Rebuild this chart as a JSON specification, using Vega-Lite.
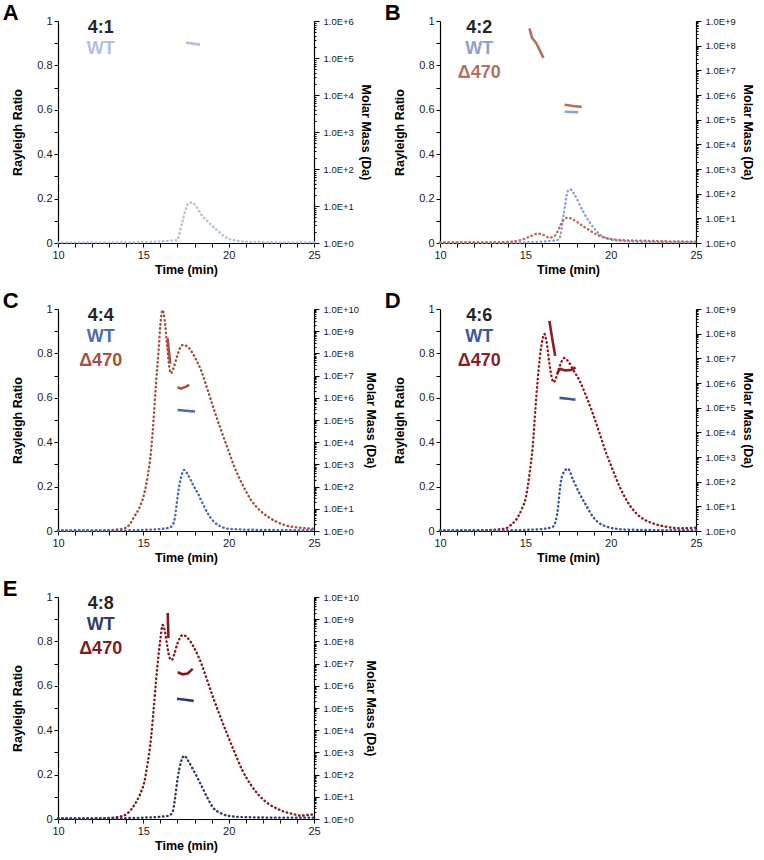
{
  "$schema": "https://vega.github.io/schema/vega-lite/v6.json",
  "padding": {"left": 2, "top": 2, "right": 2, "bottom": 2},
  "columns": 2,
  "spacing": {"column": 7, "row": 14},
  "datasets": {
    "rr": [
      {"panel": "A", "key": "A-WT", "t": 10, "rr": 0.003}, {"panel": "A", "key": "A-WT", "t": 12, "rr": 0.003}, {"panel": "A", "key": "A-WT", "t": 14, "rr": 0.003}, {"panel": "A", "key": "A-WT", "t": 15, "rr": 0.004}, {"panel": "A", "key": "A-WT", "t": 16, "rr": 0.007}, {"panel": "A", "key": "A-WT", "t": 16.5, "rr": 0.01}, {"panel": "A", "key": "A-WT", "t": 16.9, "rr": 0.012}, {"panel": "A", "key": "A-WT", "t": 17.0, "rr": 0.017}, {"panel": "A", "key": "A-WT", "t": 17.3, "rr": 0.1}, {"panel": "A", "key": "A-WT", "t": 17.6, "rr": 0.174}, {"panel": "A", "key": "A-WT", "t": 17.83, "rr": 0.182}, {"panel": "A", "key": "A-WT", "t": 18.1, "rr": 0.165}, {"panel": "A", "key": "A-WT", "t": 18.38, "rr": 0.129}, {"panel": "A", "key": "A-WT", "t": 18.8, "rr": 0.095}, {"panel": "A", "key": "A-WT", "t": 19.16, "rr": 0.069}, {"panel": "A", "key": "A-WT", "t": 19.5, "rr": 0.045}, {"panel": "A", "key": "A-WT", "t": 19.94, "rr": 0.021}, {"panel": "A", "key": "A-WT", "t": 20.5, "rr": 0.01}, {"panel": "A", "key": "A-WT", "t": 21, "rr": 0.006}, {"panel": "A", "key": "A-WT", "t": 22, "rr": 0.004}, {"panel": "A", "key": "A-WT", "t": 23, "rr": 0.003}, {"panel": "A", "key": "A-WT", "t": 25, "rr": 0.003},

      {"panel": "B", "key": "B-WT", "t": 10, "rr": 0.002}, {"panel": "B", "key": "B-WT", "t": 14, "rr": 0.002}, {"panel": "B", "key": "B-WT", "t": 15, "rr": 0.003}, {"panel": "B", "key": "B-WT", "t": 16, "rr": 0.006}, {"panel": "B", "key": "B-WT", "t": 16.5, "rr": 0.01}, {"panel": "B", "key": "B-WT", "t": 16.85, "rr": 0.013}, {"panel": "B", "key": "B-WT", "t": 17.0, "rr": 0.02}, {"panel": "B", "key": "B-WT", "t": 17.25, "rr": 0.13}, {"panel": "B", "key": "B-WT", "t": 17.49, "rr": 0.234}, {"panel": "B", "key": "B-WT", "t": 17.63, "rr": 0.242}, {"panel": "B", "key": "B-WT", "t": 17.9, "rr": 0.215}, {"panel": "B", "key": "B-WT", "t": 18.37, "rr": 0.144}, {"panel": "B", "key": "B-WT", "t": 18.8, "rr": 0.09}, {"panel": "B", "key": "B-WT", "t": 19.16, "rr": 0.054}, {"panel": "B", "key": "B-WT", "t": 19.5, "rr": 0.032}, {"panel": "B", "key": "B-WT", "t": 19.94, "rr": 0.017}, {"panel": "B", "key": "B-WT", "t": 20.5, "rr": 0.01}, {"panel": "B", "key": "B-WT", "t": 21.5, "rr": 0.006}, {"panel": "B", "key": "B-WT", "t": 23, "rr": 0.004}, {"panel": "B", "key": "B-WT", "t": 25, "rr": 0.003},

      {"panel": "B", "key": "B-D470", "t": 10, "rr": 0.002}, {"panel": "B", "key": "B-D470", "t": 13, "rr": 0.002}, {"panel": "B", "key": "B-D470", "t": 14.24, "rr": 0.006}, {"panel": "B", "key": "B-D470", "t": 14.8, "rr": 0.015}, {"panel": "B", "key": "B-D470", "t": 15.3, "rr": 0.03}, {"panel": "B", "key": "B-D470", "t": 15.73, "rr": 0.042}, {"panel": "B", "key": "B-D470", "t": 16.1, "rr": 0.035}, {"panel": "B", "key": "B-D470", "t": 16.41, "rr": 0.024}, {"panel": "B", "key": "B-D470", "t": 16.7, "rr": 0.03}, {"panel": "B", "key": "B-D470", "t": 17.0, "rr": 0.07}, {"panel": "B", "key": "B-D470", "t": 17.2, "rr": 0.1}, {"panel": "B", "key": "B-D470", "t": 17.49, "rr": 0.114}, {"panel": "B", "key": "B-D470", "t": 17.8, "rr": 0.105}, {"panel": "B", "key": "B-D470", "t": 18.37, "rr": 0.077}, {"panel": "B", "key": "B-D470", "t": 18.8, "rr": 0.055}, {"panel": "B", "key": "B-D470", "t": 19.16, "rr": 0.039}, {"panel": "B", "key": "B-D470", "t": 19.6, "rr": 0.025}, {"panel": "B", "key": "B-D470", "t": 20.1, "rr": 0.017}, {"panel": "B", "key": "B-D470", "t": 21, "rr": 0.012}, {"panel": "B", "key": "B-D470", "t": 22, "rr": 0.01}, {"panel": "B", "key": "B-D470", "t": 23, "rr": 0.008}, {"panel": "B", "key": "B-D470", "t": 25, "rr": 0.006},

      {"panel": "C", "key": "C-D470", "t": 10, "rr": 0.002}, {"panel": "C", "key": "C-D470", "t": 12, "rr": 0.002}, {"panel": "C", "key": "C-D470", "t": 13, "rr": 0.004}, {"panel": "C", "key": "C-D470", "t": 13.5, "rr": 0.007}, {"panel": "C", "key": "C-D470", "t": 13.89, "rr": 0.012}, {"panel": "C", "key": "C-D470", "t": 14.2, "rr": 0.03}, {"panel": "C", "key": "C-D470", "t": 14.47, "rr": 0.065}, {"panel": "C", "key": "C-D470", "t": 14.8, "rr": 0.11}, {"panel": "C", "key": "C-D470", "t": 15.06, "rr": 0.17}, {"panel": "C", "key": "C-D470", "t": 15.26, "rr": 0.25}, {"panel": "C", "key": "C-D470", "t": 15.45, "rr": 0.36}, {"panel": "C", "key": "C-D470", "t": 15.6, "rr": 0.5}, {"panel": "C", "key": "C-D470", "t": 15.74, "rr": 0.66}, {"panel": "C", "key": "C-D470", "t": 15.9, "rr": 0.82}, {"panel": "C", "key": "C-D470", "t": 16.0, "rr": 0.93}, {"panel": "C", "key": "C-D470", "t": 16.13, "rr": 0.995}, {"panel": "C", "key": "C-D470", "t": 16.25, "rr": 0.95}, {"panel": "C", "key": "C-D470", "t": 16.4, "rr": 0.83}, {"panel": "C", "key": "C-D470", "t": 16.52, "rr": 0.74}, {"panel": "C", "key": "C-D470", "t": 16.62, "rr": 0.71}, {"panel": "C", "key": "C-D470", "t": 16.75, "rr": 0.73}, {"panel": "C", "key": "C-D470", "t": 16.95, "rr": 0.78}, {"panel": "C", "key": "C-D470", "t": 17.1, "rr": 0.815}, {"panel": "C", "key": "C-D470", "t": 17.31, "rr": 0.838}, {"panel": "C", "key": "C-D470", "t": 17.6, "rr": 0.83}, {"panel": "C", "key": "C-D470", "t": 18.0, "rr": 0.785}, {"panel": "C", "key": "C-D470", "t": 18.4, "rr": 0.72}, {"panel": "C", "key": "C-D470", "t": 18.77, "rr": 0.635}, {"panel": "C", "key": "C-D470", "t": 19.15, "rr": 0.545}, {"panel": "C", "key": "C-D470", "t": 19.55, "rr": 0.455}, {"panel": "C", "key": "C-D470", "t": 19.95, "rr": 0.37}, {"panel": "C", "key": "C-D470", "t": 20.33, "rr": 0.29}, {"panel": "C", "key": "C-D470", "t": 20.8, "rr": 0.21}, {"panel": "C", "key": "C-D470", "t": 21.31, "rr": 0.14}, {"panel": "C", "key": "C-D470", "t": 21.8, "rr": 0.095}, {"panel": "C", "key": "C-D470", "t": 22.29, "rr": 0.065}, {"panel": "C", "key": "C-D470", "t": 22.8, "rr": 0.042}, {"panel": "C", "key": "C-D470", "t": 23.26, "rr": 0.027}, {"panel": "C", "key": "C-D470", "t": 23.8, "rr": 0.018}, {"panel": "C", "key": "C-D470", "t": 24.63, "rr": 0.012}, {"panel": "C", "key": "C-D470", "t": 25, "rr": 0.01},

      {"panel": "C", "key": "C-WT", "t": 10, "rr": 0.002}, {"panel": "C", "key": "C-WT", "t": 14, "rr": 0.003}, {"panel": "C", "key": "C-WT", "t": 15, "rr": 0.005}, {"panel": "C", "key": "C-WT", "t": 16, "rr": 0.009}, {"panel": "C", "key": "C-WT", "t": 16.5, "rr": 0.014}, {"panel": "C", "key": "C-WT", "t": 16.7, "rr": 0.025}, {"panel": "C", "key": "C-WT", "t": 16.85, "rr": 0.06}, {"panel": "C", "key": "C-WT", "t": 17.0, "rr": 0.15}, {"panel": "C", "key": "C-WT", "t": 17.2, "rr": 0.24}, {"panel": "C", "key": "C-WT", "t": 17.4, "rr": 0.275}, {"panel": "C", "key": "C-WT", "t": 17.6, "rr": 0.255}, {"panel": "C", "key": "C-WT", "t": 17.9, "rr": 0.21}, {"panel": "C", "key": "C-WT", "t": 18.19, "rr": 0.17}, {"panel": "C", "key": "C-WT", "t": 18.5, "rr": 0.12}, {"panel": "C", "key": "C-WT", "t": 18.77, "rr": 0.08}, {"panel": "C", "key": "C-WT", "t": 19.1, "rr": 0.045}, {"panel": "C", "key": "C-WT", "t": 19.55, "rr": 0.02}, {"panel": "C", "key": "C-WT", "t": 20, "rr": 0.01}, {"panel": "C", "key": "C-WT", "t": 21, "rr": 0.006}, {"panel": "C", "key": "C-WT", "t": 23, "rr": 0.004}, {"panel": "C", "key": "C-WT", "t": 25, "rr": 0.003},

      {"panel": "D", "key": "D-D470", "t": 10, "rr": 0.003}, {"panel": "D", "key": "D-D470", "t": 12, "rr": 0.003}, {"panel": "D", "key": "D-D470", "t": 13, "rr": 0.005}, {"panel": "D", "key": "D-D470", "t": 13.5, "rr": 0.008}, {"panel": "D", "key": "D-D470", "t": 13.86, "rr": 0.012}, {"panel": "D", "key": "D-D470", "t": 14.2, "rr": 0.03}, {"panel": "D", "key": "D-D470", "t": 14.45, "rr": 0.05}, {"panel": "D", "key": "D-D470", "t": 14.8, "rr": 0.1}, {"panel": "D", "key": "D-D470", "t": 15.04, "rr": 0.154}, {"panel": "D", "key": "D-D470", "t": 15.25, "rr": 0.26}, {"panel": "D", "key": "D-D470", "t": 15.43, "rr": 0.378}, {"panel": "D", "key": "D-D470", "t": 15.6, "rr": 0.56}, {"panel": "D", "key": "D-D470", "t": 15.72, "rr": 0.677}, {"panel": "D", "key": "D-D470", "t": 15.85, "rr": 0.78}, {"panel": "D", "key": "D-D470", "t": 16.0, "rr": 0.86}, {"panel": "D", "key": "D-D470", "t": 16.12, "rr": 0.887}, {"panel": "D", "key": "D-D470", "t": 16.25, "rr": 0.85}, {"panel": "D", "key": "D-D470", "t": 16.4, "rr": 0.76}, {"panel": "D", "key": "D-D470", "t": 16.55, "rr": 0.69}, {"panel": "D", "key": "D-D470", "t": 16.67, "rr": 0.67}, {"panel": "D", "key": "D-D470", "t": 16.8, "rr": 0.69}, {"panel": "D", "key": "D-D470", "t": 17.0, "rr": 0.74}, {"panel": "D", "key": "D-D470", "t": 17.29, "rr": 0.779}, {"panel": "D", "key": "D-D470", "t": 17.55, "rr": 0.76}, {"panel": "D", "key": "D-D470", "t": 17.85, "rr": 0.72}, {"panel": "D", "key": "D-D470", "t": 18.18, "rr": 0.677}, {"panel": "D", "key": "D-D470", "t": 18.55, "rr": 0.61}, {"panel": "D", "key": "D-D470", "t": 18.96, "rr": 0.528}, {"panel": "D", "key": "D-D470", "t": 19.35, "rr": 0.44}, {"panel": "D", "key": "D-D470", "t": 19.75, "rr": 0.348}, {"panel": "D", "key": "D-D470", "t": 20.15, "rr": 0.27}, {"panel": "D", "key": "D-D470", "t": 20.53, "rr": 0.199}, {"panel": "D", "key": "D-D470", "t": 21.0, "rr": 0.13}, {"panel": "D", "key": "D-D470", "t": 21.51, "rr": 0.079}, {"panel": "D", "key": "D-D470", "t": 22.0, "rr": 0.05}, {"panel": "D", "key": "D-D470", "t": 22.49, "rr": 0.034}, {"panel": "D", "key": "D-D470", "t": 23.2, "rr": 0.02}, {"panel": "D", "key": "D-D470", "t": 24.06, "rr": 0.012}, {"panel": "D", "key": "D-D470", "t": 24.5, "rr": 0.013}, {"panel": "D", "key": "D-D470", "t": 25, "rr": 0.015},

      {"panel": "D", "key": "D-WT", "t": 10, "rr": 0.002}, {"panel": "D", "key": "D-WT", "t": 14, "rr": 0.003}, {"panel": "D", "key": "D-WT", "t": 15, "rr": 0.005}, {"panel": "D", "key": "D-WT", "t": 16, "rr": 0.009}, {"panel": "D", "key": "D-WT", "t": 16.61, "rr": 0.019}, {"panel": "D", "key": "D-WT", "t": 16.85, "rr": 0.07}, {"panel": "D", "key": "D-WT", "t": 17.1, "rr": 0.229}, {"panel": "D", "key": "D-WT", "t": 17.3, "rr": 0.27}, {"panel": "D", "key": "D-WT", "t": 17.49, "rr": 0.281}, {"panel": "D", "key": "D-WT", "t": 17.8, "rr": 0.23}, {"panel": "D", "key": "D-WT", "t": 18.18, "rr": 0.169}, {"panel": "D", "key": "D-WT", "t": 18.6, "rr": 0.11}, {"panel": "D", "key": "D-WT", "t": 18.96, "rr": 0.064}, {"panel": "D", "key": "D-WT", "t": 19.35, "rr": 0.035}, {"panel": "D", "key": "D-WT", "t": 19.75, "rr": 0.02}, {"panel": "D", "key": "D-WT", "t": 20.3, "rr": 0.01}, {"panel": "D", "key": "D-WT", "t": 21, "rr": 0.006}, {"panel": "D", "key": "D-WT", "t": 23, "rr": 0.004}, {"panel": "D", "key": "D-WT", "t": 25, "rr": 0.004},

      {"panel": "E", "key": "E-D470", "t": 10, "rr": 0.002}, {"panel": "E", "key": "E-D470", "t": 12, "rr": 0.003}, {"panel": "E", "key": "E-D470", "t": 13, "rr": 0.005}, {"panel": "E", "key": "E-D470", "t": 13.6, "rr": 0.01}, {"panel": "E", "key": "E-D470", "t": 14.08, "rr": 0.026}, {"panel": "E", "key": "E-D470", "t": 14.47, "rr": 0.063}, {"panel": "E", "key": "E-D470", "t": 14.8, "rr": 0.11}, {"panel": "E", "key": "E-D470", "t": 15.06, "rr": 0.168}, {"panel": "E", "key": "E-D470", "t": 15.25, "rr": 0.25}, {"panel": "E", "key": "E-D470", "t": 15.45, "rr": 0.363}, {"panel": "E", "key": "E-D470", "t": 15.6, "rr": 0.49}, {"panel": "E", "key": "E-D470", "t": 15.74, "rr": 0.62}, {"panel": "E", "key": "E-D470", "t": 15.88, "rr": 0.73}, {"panel": "E", "key": "E-D470", "t": 16.0, "rr": 0.81}, {"panel": "E", "key": "E-D470", "t": 16.13, "rr": 0.874}, {"panel": "E", "key": "E-D470", "t": 16.25, "rr": 0.85}, {"panel": "E", "key": "E-D470", "t": 16.4, "rr": 0.78}, {"panel": "E", "key": "E-D470", "t": 16.55, "rr": 0.725}, {"panel": "E", "key": "E-D470", "t": 16.66, "rr": 0.716}, {"panel": "E", "key": "E-D470", "t": 16.8, "rr": 0.74}, {"panel": "E", "key": "E-D470", "t": 17.0, "rr": 0.79}, {"panel": "E", "key": "E-D470", "t": 17.31, "rr": 0.829}, {"panel": "E", "key": "E-D470", "t": 17.6, "rr": 0.815}, {"panel": "E", "key": "E-D470", "t": 17.99, "rr": 0.769}, {"panel": "E", "key": "E-D470", "t": 18.4, "rr": 0.7}, {"panel": "E", "key": "E-D470", "t": 18.77, "rr": 0.619}, {"panel": "E", "key": "E-D470", "t": 19.15, "rr": 0.535}, {"panel": "E", "key": "E-D470", "t": 19.55, "rr": 0.453}, {"panel": "E", "key": "E-D470", "t": 19.95, "rr": 0.375}, {"panel": "E", "key": "E-D470", "t": 20.33, "rr": 0.303}, {"panel": "E", "key": "E-D470", "t": 20.8, "rr": 0.22}, {"panel": "E", "key": "E-D470", "t": 21.31, "rr": 0.153}, {"panel": "E", "key": "E-D470", "t": 21.8, "rr": 0.105}, {"panel": "E", "key": "E-D470", "t": 22.29, "rr": 0.071}, {"panel": "E", "key": "E-D470", "t": 22.8, "rr": 0.048}, {"panel": "E", "key": "E-D470", "t": 23.26, "rr": 0.033}, {"panel": "E", "key": "E-D470", "t": 23.8, "rr": 0.022}, {"panel": "E", "key": "E-D470", "t": 24.24, "rr": 0.015}, {"panel": "E", "key": "E-D470", "t": 24.6, "rr": 0.018}, {"panel": "E", "key": "E-D470", "t": 25, "rr": 0.02},

      {"panel": "E", "key": "E-WT", "t": 10, "rr": 0.002}, {"panel": "E", "key": "E-WT", "t": 13, "rr": 0.003}, {"panel": "E", "key": "E-WT", "t": 15, "rr": 0.006}, {"panel": "E", "key": "E-WT", "t": 16, "rr": 0.01}, {"panel": "E", "key": "E-WT", "t": 16.5, "rr": 0.015}, {"panel": "E", "key": "E-WT", "t": 16.72, "rr": 0.033}, {"panel": "E", "key": "E-WT", "t": 16.85, "rr": 0.09}, {"panel": "E", "key": "E-WT", "t": 17.01, "rr": 0.183}, {"panel": "E", "key": "E-WT", "t": 17.2, "rr": 0.255}, {"panel": "E", "key": "E-WT", "t": 17.4, "rr": 0.285}, {"panel": "E", "key": "E-WT", "t": 17.6, "rr": 0.265}, {"panel": "E", "key": "E-WT", "t": 17.9, "rr": 0.225}, {"panel": "E", "key": "E-WT", "t": 18.19, "rr": 0.183}, {"panel": "E", "key": "E-WT", "t": 18.5, "rr": 0.135}, {"panel": "E", "key": "E-WT", "t": 18.77, "rr": 0.093}, {"panel": "E", "key": "E-WT", "t": 19.1, "rr": 0.05}, {"panel": "E", "key": "E-WT", "t": 19.55, "rr": 0.026}, {"panel": "E", "key": "E-WT", "t": 20, "rr": 0.014}, {"panel": "E", "key": "E-WT", "t": 21, "rr": 0.008}, {"panel": "E", "key": "E-WT", "t": 23, "rr": 0.006}, {"panel": "E", "key": "E-WT", "t": 25, "rr": 0.006}
    ],
    "mass": [
      {"panel": "A", "key": "A-WT", "seg": "mid", "t": 17.5, "mass": 260000}, {"panel": "A", "key": "A-WT", "seg": "mid", "t": 17.9, "mass": 245000}, {"panel": "A", "key": "A-WT", "seg": "mid", "t": 18.32, "mass": 230000},
      {"panel": "B", "key": "B-WT", "seg": "mid", "t": 17.3, "mass": 210000}, {"panel": "B", "key": "B-WT", "seg": "mid", "t": 17.7, "mass": 205000}, {"panel": "B", "key": "B-WT", "seg": "mid", "t": 18.1, "mass": 200000},
      {"panel": "B", "key": "B-D470", "seg": "mid", "t": 17.3, "mass": 400000}, {"panel": "B", "key": "B-D470", "seg": "mid", "t": 17.8, "mass": 360000}, {"panel": "B", "key": "B-D470", "seg": "mid", "t": 18.3, "mass": 330000},
      {"panel": "B", "key": "B-D470", "seg": "hi", "t": 15.24, "mass": 500000000}, {"panel": "B", "key": "B-D470", "seg": "hi", "t": 15.39, "mass": 210000000}, {"panel": "B", "key": "B-D470", "seg": "hi", "t": 15.63, "mass": 130000000}, {"panel": "B", "key": "B-D470", "seg": "hi", "t": 15.82, "mass": 71000000}, {"panel": "B", "key": "B-D470", "seg": "hi", "t": 16.06, "mass": 32000000},
      {"panel": "C", "key": "C-WT", "seg": "mid", "t": 17.01, "mass": 280000}, {"panel": "C", "key": "C-WT", "seg": "mid", "t": 17.5, "mass": 260000}, {"panel": "C", "key": "C-WT", "seg": "mid", "t": 18.03, "mass": 240000},
      {"panel": "C", "key": "C-D470", "seg": "hi", "t": 16.43, "mass": 480000000}, {"panel": "C", "key": "C-D470", "seg": "hi", "t": 16.48, "mass": 150000000}, {"panel": "C", "key": "C-D470", "seg": "hi", "t": 16.55, "mass": 60000000}, {"panel": "C", "key": "C-D470", "seg": "hi", "t": 16.58, "mass": 35000000},
      {"panel": "C", "key": "C-D470", "seg": "mid", "t": 17.01, "mass": 3000000}, {"panel": "C", "key": "C-D470", "seg": "mid", "t": 17.21, "mass": 2600000}, {"panel": "C", "key": "C-D470", "seg": "mid", "t": 17.5, "mass": 3200000}, {"panel": "C", "key": "C-D470", "seg": "mid", "t": 17.69, "mass": 3800000},
      {"panel": "D", "key": "D-WT", "seg": "mid", "t": 17.0, "mass": 250000}, {"panel": "D", "key": "D-WT", "seg": "mid", "t": 17.5, "mass": 230000}, {"panel": "D", "key": "D-WT", "seg": "mid", "t": 17.94, "mass": 210000},
      {"panel": "D", "key": "D-D470", "seg": "hi", "t": 16.41, "mass": 330000000}, {"panel": "D", "key": "D-D470", "seg": "hi", "t": 16.58, "mass": 60000000}, {"panel": "D", "key": "D-D470", "seg": "hi", "t": 16.75, "mass": 12600000},
      {"panel": "D", "key": "D-D470", "seg": "mid", "t": 16.86, "mass": 2500000}, {"panel": "D", "key": "D-D470", "seg": "mid", "t": 17.04, "mass": 3700000}, {"panel": "D", "key": "D-D470", "seg": "mid", "t": 17.35, "mass": 3200000}, {"panel": "D", "key": "D-D470", "seg": "mid", "t": 17.69, "mass": 3400000}, {"panel": "D", "key": "D-D470", "seg": "mid", "t": 17.94, "mass": 4300000},
      {"panel": "E", "key": "E-WT", "seg": "mid", "t": 16.97, "mass": 260000}, {"panel": "E", "key": "E-WT", "seg": "mid", "t": 17.45, "mass": 235000}, {"panel": "E", "key": "E-WT", "seg": "mid", "t": 17.95, "mass": 210000},
      {"panel": "E", "key": "E-D470", "seg": "hi", "t": 16.43, "mass": 1900000000}, {"panel": "E", "key": "E-D470", "seg": "hi", "t": 16.45, "mass": 500000000}, {"panel": "E", "key": "E-D470", "seg": "hi", "t": 16.47, "mass": 140000000},
      {"panel": "E", "key": "E-D470", "seg": "mid", "t": 17.01, "mass": 4100000}, {"panel": "E", "key": "E-D470", "seg": "mid", "t": 17.3, "mass": 3300000}, {"panel": "E", "key": "E-D470", "seg": "mid", "t": 17.6, "mass": 3600000}, {"panel": "E", "key": "E-D470", "seg": "mid", "t": 17.89, "mass": 5800000}
    ],
    "labels": [
      {"panel": "A", "key": "ratio", "t": 12.5, "rr": 0.968, "text": "4:1"}, {"panel": "A", "key": "A-WT", "t": 12.5, "rr": 0.872, "text": "WT"},
      {"panel": "B", "key": "ratio", "t": 12.3, "rr": 0.968, "text": "4:2"}, {"panel": "B", "key": "B-WT", "t": 12.3, "rr": 0.872, "text": "WT"}, {"panel": "B", "key": "B-D470", "t": 12.3, "rr": 0.768, "text": "Δ470"},
      {"panel": "C", "key": "ratio", "t": 12.5, "rr": 0.968, "text": "4:4"}, {"panel": "C", "key": "C-WT", "t": 12.5, "rr": 0.872, "text": "WT"}, {"panel": "C", "key": "C-D470", "t": 12.5, "rr": 0.768, "text": "Δ470"},
      {"panel": "D", "key": "ratio", "t": 12.3, "rr": 0.968, "text": "4:6"}, {"panel": "D", "key": "D-WT", "t": 12.3, "rr": 0.872, "text": "WT"}, {"panel": "D", "key": "D-D470", "t": 12.3, "rr": 0.768, "text": "Δ470"},
      {"panel": "E", "key": "ratio", "t": 12.5, "rr": 0.968, "text": "4:8"}, {"panel": "E", "key": "E-WT", "t": 12.5, "rr": 0.872, "text": "WT"}, {"panel": "E", "key": "E-D470", "t": 12.5, "rr": 0.768, "text": "Δ470"}
    ]
  },
  "concat": [
    {
      "title": "A",
      "width": 256, "height": 222,
      "layer": [
        {"data": {"name": "rr"}, "transform": [{"filter": "datum.panel === 'A'"}],
         "mark": {"type": "line", "strokeDash": [0.5, 3.7], "strokeCap": "round", "strokeWidth": 2.4, "interpolate": "monotone"},
         "encoding": {
           "x": {"field": "t", "type": "quantitative", "scale": {"domain": [10, 25], "nice": false}, "axis": {"title": "Time (min)", "values": [10,11,12,13,14,15,16,17,18,19,20,21,22,23,24,25], "tickCount": 100, "labelExpr": "datum.value % 5 === 0 ? '' + datum.value : ''", "labelOverlap": false, "labelFlush": false, "labelPadding": 2, "titlePadding": 3}},
           "y": {"field": "rr", "type": "quantitative", "scale": {"domain": [0, 1], "nice": false}, "axis": {"title": "Rayleigh Ratio", "values": [0,0.1,0.2,0.3,0.4,0.5,0.6,0.7,0.8,0.9,1], "tickCount": 100, "labelExpr": "round(datum.value * 10) % 2 === 0 ? '' + datum.value : ''", "labelOverlap": false, "titlePadding": 12}},
           "color": {"field": "key", "type": "nominal", "scale": {"domain": ["ratio","A-WT","B-WT","B-D470","C-WT","C-D470","D-WT","D-D470","E-WT","E-D470"], "range": ["#262626","#b4c1da","#8ea2cf","#b5705e","#4d6ab2","#a4523f","#3c579c","#8b1e24","#2f3b6b","#7e1c22"]}, "legend": null}
         }},
        {"data": {"name": "mass"}, "transform": [{"filter": "datum.panel === 'A'"}],
         "mark": {"type": "line", "strokeWidth": 2.6},
         "encoding": {
           "x": {"field": "t", "type": "quantitative"},
           "y": {"field": "mass", "type": "quantitative", "scale": {"type": "log", "domain": [1, 1000000], "nice": false}, "axis": {"orient": "right", "title": "Molar Mass (Da)", "tickCount": 50, "labelExpr": "abs(log(datum.value) / LN10 - round(log(datum.value) / LN10)) < 0.001 ? '1.0E+' + round(log(datum.value) / LN10) : ''", "labelOverlap": false, "labelFontSize": 9.5, "labelPadding": 4, "titlePadding": 5, "tickSize": {"condition": {"test": "abs(log(datum.value) / LN10 - round(log(datum.value) / LN10)) < 0.001", "value": 5}, "value": 2}}},
           "detail": {"field": "seg"},
           "color": {"field": "key", "type": "nominal", "scale": {"domain": ["ratio","A-WT","B-WT","B-D470","C-WT","C-D470","D-WT","D-D470","E-WT","E-D470"], "range": ["#262626","#b4c1da","#8ea2cf","#b5705e","#4d6ab2","#a4523f","#3c579c","#8b1e24","#2f3b6b","#7e1c22"]}, "legend": null}
         }},
        {"data": {"name": "labels"}, "transform": [{"filter": "datum.panel === 'A'"}],
         "mark": {"type": "text", "fontSize": 18, "fontWeight": "bold", "align": "center", "baseline": "middle"},
         "encoding": {
           "x": {"field": "t", "type": "quantitative"},
           "y": {"field": "rr", "type": "quantitative", "scale": {"domain": [0, 1], "nice": false}, "axis": null},
           "text": {"field": "text"},
           "color": {"field": "key", "type": "nominal", "scale": {"domain": ["ratio","A-WT","B-WT","B-D470","C-WT","C-D470","D-WT","D-D470","E-WT","E-D470"], "range": ["#262626","#b4c1da","#8ea2cf","#b5705e","#4d6ab2","#a4523f","#3c579c","#8b1e24","#2f3b6b","#7e1c22"]}, "legend": null}
         }}
      ],
      "resolve": {"scale": {"y": "independent"}}
    },
    {
      "title": "B",
      "width": 256, "height": 222,
      "layer": [
        {"data": {"name": "rr"}, "transform": [{"filter": "datum.panel === 'B'"}],
         "mark": {"type": "line", "strokeDash": [0.5, 3.7], "strokeCap": "round", "strokeWidth": 2.4, "interpolate": "monotone"},
         "encoding": {
           "x": {"field": "t", "type": "quantitative", "scale": {"domain": [10, 25], "nice": false}, "axis": {"title": "Time (min)", "values": [10,11,12,13,14,15,16,17,18,19,20,21,22,23,24,25], "tickCount": 100, "labelExpr": "datum.value % 5 === 0 ? '' + datum.value : ''", "labelOverlap": false, "labelFlush": false, "labelPadding": 2, "titlePadding": 3}},
           "y": {"field": "rr", "type": "quantitative", "scale": {"domain": [0, 1], "nice": false}, "axis": {"title": "Rayleigh Ratio", "values": [0,0.1,0.2,0.3,0.4,0.5,0.6,0.7,0.8,0.9,1], "tickCount": 100, "labelExpr": "round(datum.value * 10) % 2 === 0 ? '' + datum.value : ''", "labelOverlap": false, "titlePadding": 12}},
           "color": {"field": "key", "type": "nominal", "scale": {"domain": ["ratio","A-WT","B-WT","B-D470","C-WT","C-D470","D-WT","D-D470","E-WT","E-D470"], "range": ["#262626","#b4c1da","#8ea2cf","#b5705e","#4d6ab2","#a4523f","#3c579c","#8b1e24","#2f3b6b","#7e1c22"]}, "legend": null}
         }},
        {"data": {"name": "mass"}, "transform": [{"filter": "datum.panel === 'B'"}],
         "mark": {"type": "line", "strokeWidth": 2.6},
         "encoding": {
           "x": {"field": "t", "type": "quantitative"},
           "y": {"field": "mass", "type": "quantitative", "scale": {"type": "log", "domain": [1, 1000000000], "nice": false}, "axis": {"orient": "right", "title": "Molar Mass (Da)", "tickCount": 50, "labelExpr": "abs(log(datum.value) / LN10 - round(log(datum.value) / LN10)) < 0.001 ? '1.0E+' + round(log(datum.value) / LN10) : ''", "labelOverlap": false, "labelFontSize": 9.5, "labelPadding": 4, "titlePadding": 5, "tickSize": {"condition": {"test": "abs(log(datum.value) / LN10 - round(log(datum.value) / LN10)) < 0.001", "value": 5}, "value": 2}}},
           "detail": {"field": "seg"},
           "color": {"field": "key", "type": "nominal", "scale": {"domain": ["ratio","A-WT","B-WT","B-D470","C-WT","C-D470","D-WT","D-D470","E-WT","E-D470"], "range": ["#262626","#b4c1da","#8ea2cf","#b5705e","#4d6ab2","#a4523f","#3c579c","#8b1e24","#2f3b6b","#7e1c22"]}, "legend": null}
         }},
        {"data": {"name": "labels"}, "transform": [{"filter": "datum.panel === 'B'"}],
         "mark": {"type": "text", "fontSize": 18, "fontWeight": "bold", "align": "center", "baseline": "middle"},
         "encoding": {
           "x": {"field": "t", "type": "quantitative"},
           "y": {"field": "rr", "type": "quantitative", "scale": {"domain": [0, 1], "nice": false}, "axis": null},
           "text": {"field": "text"},
           "color": {"field": "key", "type": "nominal", "scale": {"domain": ["ratio","A-WT","B-WT","B-D470","C-WT","C-D470","D-WT","D-D470","E-WT","E-D470"], "range": ["#262626","#b4c1da","#8ea2cf","#b5705e","#4d6ab2","#a4523f","#3c579c","#8b1e24","#2f3b6b","#7e1c22"]}, "legend": null}
         }}
      ],
      "resolve": {"scale": {"y": "independent"}}
    },
    {
      "title": "C",
      "width": 256, "height": 222,
      "layer": [
        {"data": {"name": "rr"}, "transform": [{"filter": "datum.panel === 'C'"}],
         "mark": {"type": "line", "strokeDash": [0.5, 3.7], "strokeCap": "round", "strokeWidth": 2.4, "interpolate": "monotone"},
         "encoding": {
           "x": {"field": "t", "type": "quantitative", "scale": {"domain": [10, 25], "nice": false}, "axis": {"title": "Time (min)", "values": [10,11,12,13,14,15,16,17,18,19,20,21,22,23,24,25], "tickCount": 100, "labelExpr": "datum.value % 5 === 0 ? '' + datum.value : ''", "labelOverlap": false, "labelFlush": false, "labelPadding": 2, "titlePadding": 3}},
           "y": {"field": "rr", "type": "quantitative", "scale": {"domain": [0, 1], "nice": false}, "axis": {"title": "Rayleigh Ratio", "values": [0,0.1,0.2,0.3,0.4,0.5,0.6,0.7,0.8,0.9,1], "tickCount": 100, "labelExpr": "round(datum.value * 10) % 2 === 0 ? '' + datum.value : ''", "labelOverlap": false, "titlePadding": 12}},
           "color": {"field": "key", "type": "nominal", "scale": {"domain": ["ratio","A-WT","B-WT","B-D470","C-WT","C-D470","D-WT","D-D470","E-WT","E-D470"], "range": ["#262626","#b4c1da","#8ea2cf","#b5705e","#4d6ab2","#a4523f","#3c579c","#8b1e24","#2f3b6b","#7e1c22"]}, "legend": null}
         }},
        {"data": {"name": "mass"}, "transform": [{"filter": "datum.panel === 'C'"}],
         "mark": {"type": "line", "strokeWidth": 2.6},
         "encoding": {
           "x": {"field": "t", "type": "quantitative"},
           "y": {"field": "mass", "type": "quantitative", "scale": {"type": "log", "domain": [1, 10000000000], "nice": false}, "axis": {"orient": "right", "title": "Molar Mass (Da)", "tickCount": 50, "labelExpr": "abs(log(datum.value) / LN10 - round(log(datum.value) / LN10)) < 0.001 ? '1.0E+' + round(log(datum.value) / LN10) : ''", "labelOverlap": false, "labelFontSize": 9.5, "labelPadding": 4, "titlePadding": 5, "tickSize": {"condition": {"test": "abs(log(datum.value) / LN10 - round(log(datum.value) / LN10)) < 0.001", "value": 5}, "value": 2}}},
           "detail": {"field": "seg"},
           "color": {"field": "key", "type": "nominal", "scale": {"domain": ["ratio","A-WT","B-WT","B-D470","C-WT","C-D470","D-WT","D-D470","E-WT","E-D470"], "range": ["#262626","#b4c1da","#8ea2cf","#b5705e","#4d6ab2","#a4523f","#3c579c","#8b1e24","#2f3b6b","#7e1c22"]}, "legend": null}
         }},
        {"data": {"name": "labels"}, "transform": [{"filter": "datum.panel === 'C'"}],
         "mark": {"type": "text", "fontSize": 18, "fontWeight": "bold", "align": "center", "baseline": "middle"},
         "encoding": {
           "x": {"field": "t", "type": "quantitative"},
           "y": {"field": "rr", "type": "quantitative", "scale": {"domain": [0, 1], "nice": false}, "axis": null},
           "text": {"field": "text"},
           "color": {"field": "key", "type": "nominal", "scale": {"domain": ["ratio","A-WT","B-WT","B-D470","C-WT","C-D470","D-WT","D-D470","E-WT","E-D470"], "range": ["#262626","#b4c1da","#8ea2cf","#b5705e","#4d6ab2","#a4523f","#3c579c","#8b1e24","#2f3b6b","#7e1c22"]}, "legend": null}
         }}
      ],
      "resolve": {"scale": {"y": "independent"}}
    },
    {
      "title": "D",
      "width": 256, "height": 222,
      "layer": [
        {"data": {"name": "rr"}, "transform": [{"filter": "datum.panel === 'D'"}],
         "mark": {"type": "line", "strokeDash": [0.5, 3.7], "strokeCap": "round", "strokeWidth": 2.4, "interpolate": "monotone"},
         "encoding": {
           "x": {"field": "t", "type": "quantitative", "scale": {"domain": [10, 25], "nice": false}, "axis": {"title": "Time (min)", "values": [10,11,12,13,14,15,16,17,18,19,20,21,22,23,24,25], "tickCount": 100, "labelExpr": "datum.value % 5 === 0 ? '' + datum.value : ''", "labelOverlap": false, "labelFlush": false, "labelPadding": 2, "titlePadding": 3}},
           "y": {"field": "rr", "type": "quantitative", "scale": {"domain": [0, 1], "nice": false}, "axis": {"title": "Rayleigh Ratio", "values": [0,0.1,0.2,0.3,0.4,0.5,0.6,0.7,0.8,0.9,1], "tickCount": 100, "labelExpr": "round(datum.value * 10) % 2 === 0 ? '' + datum.value : ''", "labelOverlap": false, "titlePadding": 12}},
           "color": {"field": "key", "type": "nominal", "scale": {"domain": ["ratio","A-WT","B-WT","B-D470","C-WT","C-D470","D-WT","D-D470","E-WT","E-D470"], "range": ["#262626","#b4c1da","#8ea2cf","#b5705e","#4d6ab2","#a4523f","#3c579c","#8b1e24","#2f3b6b","#7e1c22"]}, "legend": null}
         }},
        {"data": {"name": "mass"}, "transform": [{"filter": "datum.panel === 'D'"}],
         "mark": {"type": "line", "strokeWidth": 2.6},
         "encoding": {
           "x": {"field": "t", "type": "quantitative"},
           "y": {"field": "mass", "type": "quantitative", "scale": {"type": "log", "domain": [1, 1000000000], "nice": false}, "axis": {"orient": "right", "title": "Molar Mass (Da)", "tickCount": 50, "labelExpr": "abs(log(datum.value) / LN10 - round(log(datum.value) / LN10)) < 0.001 ? '1.0E+' + round(log(datum.value) / LN10) : ''", "labelOverlap": false, "labelFontSize": 9.5, "labelPadding": 4, "titlePadding": 5, "tickSize": {"condition": {"test": "abs(log(datum.value) / LN10 - round(log(datum.value) / LN10)) < 0.001", "value": 5}, "value": 2}}},
           "detail": {"field": "seg"},
           "color": {"field": "key", "type": "nominal", "scale": {"domain": ["ratio","A-WT","B-WT","B-D470","C-WT","C-D470","D-WT","D-D470","E-WT","E-D470"], "range": ["#262626","#b4c1da","#8ea2cf","#b5705e","#4d6ab2","#a4523f","#3c579c","#8b1e24","#2f3b6b","#7e1c22"]}, "legend": null}
         }},
        {"data": {"name": "labels"}, "transform": [{"filter": "datum.panel === 'D'"}],
         "mark": {"type": "text", "fontSize": 18, "fontWeight": "bold", "align": "center", "baseline": "middle"},
         "encoding": {
           "x": {"field": "t", "type": "quantitative"},
           "y": {"field": "rr", "type": "quantitative", "scale": {"domain": [0, 1], "nice": false}, "axis": null},
           "text": {"field": "text"},
           "color": {"field": "key", "type": "nominal", "scale": {"domain": ["ratio","A-WT","B-WT","B-D470","C-WT","C-D470","D-WT","D-D470","E-WT","E-D470"], "range": ["#262626","#b4c1da","#8ea2cf","#b5705e","#4d6ab2","#a4523f","#3c579c","#8b1e24","#2f3b6b","#7e1c22"]}, "legend": null}
         }}
      ],
      "resolve": {"scale": {"y": "independent"}}
    },
    {
      "title": "E",
      "width": 256, "height": 222,
      "layer": [
        {"data": {"name": "rr"}, "transform": [{"filter": "datum.panel === 'E'"}],
         "mark": {"type": "line", "strokeDash": [0.5, 3.7], "strokeCap": "round", "strokeWidth": 2.4, "interpolate": "monotone"},
         "encoding": {
           "x": {"field": "t", "type": "quantitative", "scale": {"domain": [10, 25], "nice": false}, "axis": {"title": "Time (min)", "values": [10,11,12,13,14,15,16,17,18,19,20,21,22,23,24,25], "tickCount": 100, "labelExpr": "datum.value % 5 === 0 ? '' + datum.value : ''", "labelOverlap": false, "labelFlush": false, "labelPadding": 2, "titlePadding": 3}},
           "y": {"field": "rr", "type": "quantitative", "scale": {"domain": [0, 1], "nice": false}, "axis": {"title": "Rayleigh Ratio", "values": [0,0.1,0.2,0.3,0.4,0.5,0.6,0.7,0.8,0.9,1], "tickCount": 100, "labelExpr": "round(datum.value * 10) % 2 === 0 ? '' + datum.value : ''", "labelOverlap": false, "titlePadding": 12}},
           "color": {"field": "key", "type": "nominal", "scale": {"domain": ["ratio","A-WT","B-WT","B-D470","C-WT","C-D470","D-WT","D-D470","E-WT","E-D470"], "range": ["#262626","#b4c1da","#8ea2cf","#b5705e","#4d6ab2","#a4523f","#3c579c","#8b1e24","#2f3b6b","#7e1c22"]}, "legend": null}
         }},
        {"data": {"name": "mass"}, "transform": [{"filter": "datum.panel === 'E'"}],
         "mark": {"type": "line", "strokeWidth": 2.6},
         "encoding": {
           "x": {"field": "t", "type": "quantitative"},
           "y": {"field": "mass", "type": "quantitative", "scale": {"type": "log", "domain": [1, 10000000000], "nice": false}, "axis": {"orient": "right", "title": "Molar Mass (Da)", "tickCount": 50, "labelExpr": "abs(log(datum.value) / LN10 - round(log(datum.value) / LN10)) < 0.001 ? '1.0E+' + round(log(datum.value) / LN10) : ''", "labelOverlap": false, "labelFontSize": 9.5, "labelPadding": 4, "titlePadding": 5, "tickSize": {"condition": {"test": "abs(log(datum.value) / LN10 - round(log(datum.value) / LN10)) < 0.001", "value": 5}, "value": 2}}},
           "detail": {"field": "seg"},
           "color": {"field": "key", "type": "nominal", "scale": {"domain": ["ratio","A-WT","B-WT","B-D470","C-WT","C-D470","D-WT","D-D470","E-WT","E-D470"], "range": ["#262626","#b4c1da","#8ea2cf","#b5705e","#4d6ab2","#a4523f","#3c579c","#8b1e24","#2f3b6b","#7e1c22"]}, "legend": null}
         }},
        {"data": {"name": "labels"}, "transform": [{"filter": "datum.panel === 'E'"}],
         "mark": {"type": "text", "fontSize": 18, "fontWeight": "bold", "align": "center", "baseline": "middle"},
         "encoding": {
           "x": {"field": "t", "type": "quantitative"},
           "y": {"field": "rr", "type": "quantitative", "scale": {"domain": [0, 1], "nice": false}, "axis": null},
           "text": {"field": "text"},
           "color": {"field": "key", "type": "nominal", "scale": {"domain": ["ratio","A-WT","B-WT","B-D470","C-WT","C-D470","D-WT","D-D470","E-WT","E-D470"], "range": ["#262626","#b4c1da","#8ea2cf","#b5705e","#4d6ab2","#a4523f","#3c579c","#8b1e24","#2f3b6b","#7e1c22"]}, "legend": null}
         }}
      ],
      "resolve": {"scale": {"y": "independent"}}
    }
  ],
  "config": {
    "font": "Liberation Sans",
    "view": {"stroke": null},
    "axis": {"grid": false, "domainColor": "#000000", "domainWidth": 1.2, "tickColor": "#000000", "tickSize": 4, "labelColor": "#1a1a1a", "labelFontSize": 11, "titleColor": "#000000", "titleFontSize": 12.5, "titleFontWeight": "bold"},
    "title": {"anchor": "start", "frame": "bounds", "fontSize": 22, "fontWeight": "bold", "color": "#000000", "offset": -10, "dx": -9}
  }
}
